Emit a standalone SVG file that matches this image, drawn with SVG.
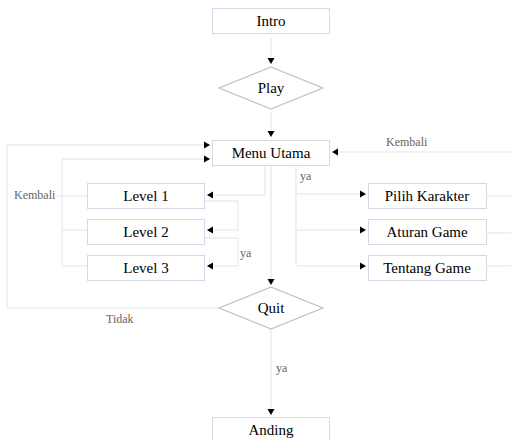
<svg xmlns="http://www.w3.org/2000/svg" width="511" height="440" viewBox="0 0 511 440">
<defs>
<marker id="arr" markerUnits="userSpaceOnUse" markerWidth="7" markerHeight="8" refX="6" refY="4" orient="auto">
<path d="M0,0.5 L6,4 L0,7.5 z" fill="#000"/>
</marker>
<style>
.box{fill:#fff;stroke:#d3d9e6;stroke-width:1}
.dia{fill:#fff;stroke:#bdbdbd;stroke-width:1.3;stroke-linejoin:round}
.t{font-family:"Liberation Serif","Times New Roman",serif;font-size:15px;fill:#000;text-anchor:middle}
.lbl{font-family:"Liberation Serif","Times New Roman",serif;font-size:12px;fill:#666}
.ln{fill:none;stroke:#e3e3e3;stroke-width:1}
.ar{fill:none;stroke:#e3e3e3;stroke-width:1;marker-end:url(#arr)}
</style>
</defs>
<rect width="511" height="440" fill="#fff"/>
<g id="connectors">
<path class="ar" d="M271,38 V64"/>
<path class="ar" d="M271,112 V137"/>
<path class="ar" d="M271,165 V285"/>
<path class="ar" d="M271,329 V415"/>
<path class="ar" d="M219,308 H7 V145 H210"/>
<path class="ar" d="M62,266 V159 H210"/>
<path class="ln" d="M57,196 H88 M62,230 H88 M62,266 H88"/>
<path class="ar" d="M265,165 V195 H207"/>
<path class="ar" d="M205,201 H238 V230 H207"/>
<path class="ar" d="M205,238 H238 V266 H207"/>
<path class="ln" d="M296,165 V266"/>
<path class="ar" d="M296,194 H366"/>
<path class="ar" d="M296,230 H366"/>
<path class="ar" d="M296,266 H366"/>
<path class="ln" d="M487,196 H511 M487,233 H511 M487,266 H511"/>
<path class="ar" d="M511,152 H332"/>
<text class="lbl" x="386" y="146">Kembali</text>
<text class="lbl" x="14" y="199">Kembali</text>
<text class="lbl" x="300" y="180">ya</text>
<text class="lbl" x="240" y="257">ya</text>
<text class="lbl" x="106" y="323">Tidak</text>
<text class="lbl" x="276" y="372">ya</text>
</g>
<g id="intro"><rect class="box" x="212.5" y="8.5" width="117" height="25"/><text class="t" x="271" y="26">Intro</text></g>
<g id="play"><path class="dia" d="M271,67 L323,88 L271,109 L219,88 Z"/><text class="t" x="271" y="93">Play</text></g>
<g id="menu-utama"><rect class="box" x="212.5" y="140.5" width="117" height="25"/><text class="t" x="271" y="158">Menu Utama</text></g>
<g id="level-1"><rect class="box" x="87.5" y="183.5" width="117" height="25"/><text class="t" x="146" y="201">Level 1</text></g>
<g id="level-2"><rect class="box" x="87.5" y="219.5" width="117" height="25"/><text class="t" x="146" y="237">Level 2</text></g>
<g id="level-3"><rect class="box" x="87.5" y="255.5" width="117" height="25"/><text class="t" x="146" y="273">Level 3</text></g>
<g id="pilih-karakter"><rect class="box" x="368.5" y="183.5" width="118" height="25"/><text class="t" x="427" y="201">Pilih Karakter</text></g>
<g id="aturan-game"><rect class="box" x="368.5" y="219.5" width="118" height="25"/><text class="t" x="427" y="237">Aturan Game</text></g>
<g id="tentang-game"><rect class="box" x="368.5" y="255.5" width="118" height="25"/><text class="t" x="427" y="273">Tentang Game</text></g>
<g id="quit"><path class="dia" d="M271,287 L323,308 L271,329 L219,308 Z"/><text class="t" x="271" y="313">Quit</text></g>
<g id="anding"><rect class="box" x="212.5" y="417.5" width="117" height="30"/><text class="t" x="271" y="435">Anding</text></g>
</svg>
